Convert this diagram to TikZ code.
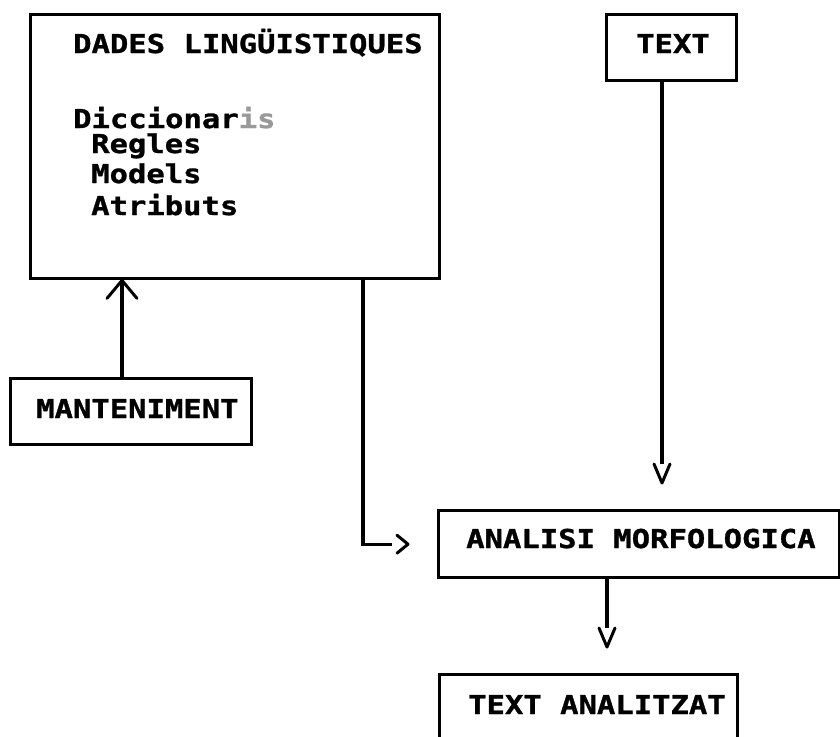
\documentclass[tikz,border=0pt]{standalone}
\usepackage{fontspec}
\usetikzlibrary{calc}
% dot-matrix printer look: wide heavy monospaced sans
\newfontfamily\printfont{DejaVu Sans Mono}[FakeStretch=1.175, FakeBold=1.2]
\tikzset{
  box/.style={draw, line width=3.4pt, inner sep=0pt, anchor=north west},
  lbl/.style={inner sep=0pt, anchor=base west,
    font=\printfont\bfseries\fontsize{26}{26}\selectfont},
  conn/.style={line width=3.1pt},
  chev/.style={line width=3pt, line join=round, line cap=round},
}
\begin{document}
\begin{tikzpicture}[x=1pt, y=-1pt]
  \clip (0,0) rectangle (840,736);

  % boxes
  \node[box, minimum width=409pt, minimum height=264pt] (dades) at (29,13) {};
  \node[box, minimum width=130pt, minimum height=66pt]  (textbox) at (605,13) {};
  \node[box, minimum width=241pt, minimum height=66pt]  (mant) at (9,377) {};
  \node[box, minimum width=401pt, minimum height=67pt]  (anal) at (437,509) {};
  \node[box, minimum width=298pt, minimum height=90pt]  (tanal) at (438,673) {};

  % labels
  \node[lbl] (dadesT) at (73,53)  {DADES LINGÜISTIQUES};
  \node[lbl] (dicc)   at (73,128) {Diccionar{\color{black!40}is}};
  \node[lbl] (regl)   at (91,153) {Regles};
  \node[lbl] (mod)    at (91,183) {Models};
  \node[lbl] (atr)    at (91,215) {Atributs};
  \node[lbl] (textT)  at (636,53) {TEXT};
  \node[lbl] (mantT)  at (36,418) {MANTENIMENT};
  \node[lbl] (analT)  at (466,548) {ANALISI MORFOLOGICA};
  \node[lbl] (tanalT) at (468,714) {TEXT ANALITZAT};

  % MANTENIMENT -> DADES LINGUISTIQUES
  \coordinate (xm) at (122,0);
  \draw[conn] (xm |- mant.north) -- (xm |- dades.south);
  \draw[chev] ($(xm |- dades.south)+(-15,18)$) -- (xm |- dades.south)
              -- ($(xm |- dades.south)+(15,18)$);

  % DADES LINGUISTIQUES -> ANALISI MORFOLOGICA
  \coordinate (xd) at (363,0);
  \coordinate (gap1) at ($(anal.west)+(-45,0)$);
  \draw[conn] (xd |- dades.south) |- (gap1);
  \draw[chev] ($(anal.west)+(-40,-9)$) -- ($(anal.west)+(-29,0)$)
              -- ($(anal.west)+(-40,9)$);

  % TEXT -> ANALISI MORFOLOGICA
  \coordinate (xt) at (662,0);
  \coordinate (tend) at ($(xt |- anal.north)+(0,-45)$);
  \draw[conn] (xt |- textbox.south) -- (tend);
  \draw[chev] ($(tend)+(-8,0)$) -- ($(tend)+(0,19)$) -- ($(tend)+(8,0)$);

  % ANALISI MORFOLOGICA -> TEXT ANALITZAT
  \coordinate (xa) at (607,0);
  \coordinate (aend) at ($(xa |- tanal.north)+(0,-45)$);
  \draw[conn] (xa |- anal.south) -- (aend);
  \draw[chev] ($(aend)+(-8,0)$) -- ($(aend)+(0,19)$) -- ($(aend)+(8,0)$);
\end{tikzpicture}
\end{document}
